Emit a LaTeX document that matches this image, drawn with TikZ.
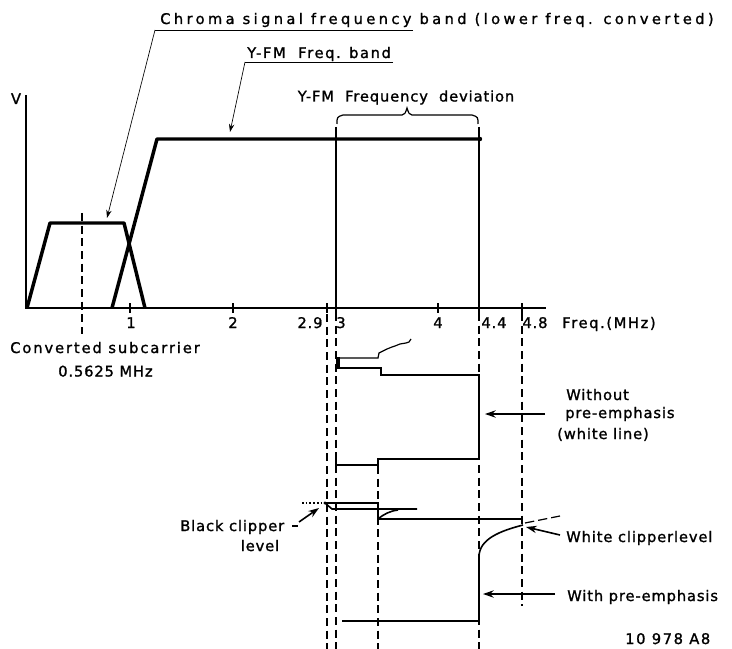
\documentclass[tikz,border=0pt]{standalone}
\usepackage{fontspec}
\newfontfamily\labfont[LetterSpace=6,FakeBold=1.3]{DejaVu Sans}
\newfontfamily\midfont[LetterSpace=11,FakeBold=1.3]{DejaVu Sans}
\newfontfamily\widefont[LetterSpace=13,FakeBold=1.3]{DejaVu Sans}
\newfontfamily\widerfont[LetterSpace=23,FakeBold=1.3]{DejaVu Sans}
\usetikzlibrary{arrows.meta}
\begin{document}
\begin{tikzpicture}[x=0.75pt,y=-0.75pt,
  lab/.style={font=\labfont\fontsize{11}{13}\selectfont, inner sep=0pt},
  labmid/.style={font=\midfont\fontsize{11}{13}\selectfont, inner sep=0pt},
  labwide/.style={font=\widefont\fontsize{11}{13}\selectfont, inner sep=0pt},
  labwider/.style={font=\widerfont\fontsize{11}{13}\selectfont, inner sep=0pt},
  axisline/.style={line width=0.9pt},
  band/.style={line width=2.6pt, line join=round},
  wave/.style={line width=1.2pt},
  guide/.style={dash pattern=on 6pt off 3.5pt, line width=0.8pt},
  tickmark/.style={line width=2.2pt},
  leader/.style={line width=0.5pt, -{Stealth[length=6pt,width=4pt]}},
  pointer/.style={line width=1.2pt, -{Stealth[length=8pt,width=5.5pt]}},
]
\useasboundingbox (0,0) rectangle (732,649);

% axes
\coordinate (Vtop) at (26,95);
\coordinate (O) at (26,308);
\coordinate (Xend) at (546,308);
\draw[axisline] (Vtop) -- (O) -- (Xend);
\node[lab, anchor=base] (V) at (16,104) {V};

% ticks
\foreach \x/\n in {130/t1,233/t2,327/t29,336/t3,438/t4,479/t44,522/t48}
  \draw[tickmark] (\x,303) coordinate (\n) -- (\x,313);

% tick labels
\node[lab, anchor=base] (l1) at (131,328) {1};
\node[lab, anchor=base] (l2) at (233,328) {2};
\node[lab, anchor=base] (l29) at (310,328) {2.9};
\node[lab, anchor=base] (l3) at (341,328) {3};
\node[lab, anchor=base] (l4) at (438,328) {4};
\node[lab, anchor=base] (l44) at (494,328) {4.4};
\node[lab, anchor=base] (l48) at (535,328) {4.8};
\node[labmid, anchor=base west] (fq) at (562,328) {Freq.(MHz)};

% chroma band
\coordinate (c0) at (27,308);
\coordinate (c1) at (50,223);
\coordinate (c2) at (124,223);
\coordinate (c3) at (145,308);
\draw[band] (c0) -- (c1) -- (c2) -- (c3);

% Y-FM band
\coordinate (y0) at (112,308);
\coordinate (y1) at (157,139);
\coordinate (y2) at (480,139);
\draw[band] (y0) -- (y1) -- (y2);
\fill (y2) circle (2.2);

% deviation verticals
\coordinate (d3top) at (336,127);
\coordinate (d44top) at (479,127);
\draw[axisline] (d3top) -- (336,308);
\draw[axisline] (d44top) -- (479,308);

% brace
\draw[line width=0.9pt] (337,124) .. controls (337,117) .. (343,115) -- (402,115)
  .. controls (405,114) .. (407,108) .. controls (409,114) .. (412,115) -- (472,115)
  .. controls (478,117) .. (478,124);

% top labels
\node[labwider, anchor=base west] (chroma) at (160,24) {Chroma signal frequency band (lower freq. converted)};
\coordinate (cu0) at (155,30);
\coordinate (cu1) at (413,30);
\coordinate (ctip) at (107,218);
\draw[line width=0.6pt] (cu1) -- (cu0);
\draw[leader] (cu0) -- (ctip);

\node[labmid, anchor=base west] (yfm) at (247,58) {Y-FM \ Freq. band};
\coordinate (yu0) at (245,62);
\coordinate (yu1) at (393,62);
\coordinate (ytip) at (230,132);
\draw[line width=0.6pt] (yu1) -- (yu0);
\draw[leader] (yu0) -- (ytip);

\node[lab, anchor=base] (dev) at (406,101.5) {Y-FM \ Frequency \ deviation};

% subcarrier
\draw[guide] (82,213) -- (82,334);
\node[labwide, anchor=base west] (conv) at (10,353) {Converted subcarrier};
\node[lab, anchor=base west] (freqsc) at (58,376.5) {0.5625 MHz};

% dashed guides
\draw[guide] (327,314) -- (327,649);
\draw[guide] (336,313) -- (336,649);
\draw[guide] (378,466) -- (378,649);
\draw[guide] (479,313) -- (479,649);
\draw[guide] (522,313) -- (522,606);

% waveform without pre-emphasis
\draw[line width=0.9pt] (337,358) -- (378,358) -- (379,353) -- (387,349) -- (392,347) -- (395,346) -- (400,344) -- (406,343) -- (409,342) -- (411,339);
\fill (336,357) rectangle (340,369);
\draw[wave] (337,368) -- (381,368) -- (381,375) -- (479,375) -- (479,459) -- (378,459) -- (378,465) -- (336,465);
\draw[line width=1.8pt] (336,460) -- (336,468);

\coordinate (a1s) at (545,414);
\coordinate (a1e) at (485,414);
\draw[pointer] (a1s) -- (a1e);
\node[lab, anchor=base west] (wo1) at (566,400) {Without};
\node[lab, anchor=base west] (wo2) at (565,418) {pre-emphasis};
\node[lab, anchor=base west] (wo3) at (557,439) {(white line)};

% waveform with pre-emphasis
\draw[line width=1.3pt, dash pattern=on 1.2pt off 1.6pt] (302,503) -- (323,503);
\fill (325,503) circle (1.6);
\draw[wave] (325,503) -- (378,503) -- (378,507);
\draw[wave] (325,503) -- (332,509) -- (417,509);
\draw[wave] (378,512) -- (378,519) .. controls (384,514) and (390,511) .. (398,510);
\draw[wave] (378,519) -- (523,519);
\draw[line width=0.9pt, dash pattern=on 7pt off 3pt] (525,523) -- (560,516);
\draw[wave] (479,621) -- (479,557) .. controls (479,539) and (500,531) .. (523,525);
\draw[wave] (342,621) -- (479,621);

% black clipper
\node[lab, anchor=base west] (bc) at (180,531) {Black clipper};
\node[lab, anchor=base] (bcl) at (260,551) {level};
\draw[line width=0.9pt] (292,526) -- (298,526);
\coordinate (bcs) at (299,522);
\coordinate (bce) at (319,508);
\draw[pointer] (bcs) -- (bce);

% white clipper
\coordinate (wcs) at (560,535);
\coordinate (wce) at (526,527);
\draw[pointer] (wcs) -- (wce);
\node[lab, anchor=base west] (wc) at (566,542) {White clipperlevel};

% with pre-emphasis
\coordinate (a2s) at (555,594);
\coordinate (a2e) at (483,594);
\draw[pointer] (a2s) -- (a2e);
\node[lab, anchor=base west] (wp) at (567,601) {With pre-emphasis};

\node[labmid, anchor=base west] (ref) at (625,644) {10 978 A8};
\end{tikzpicture}
\end{document}
